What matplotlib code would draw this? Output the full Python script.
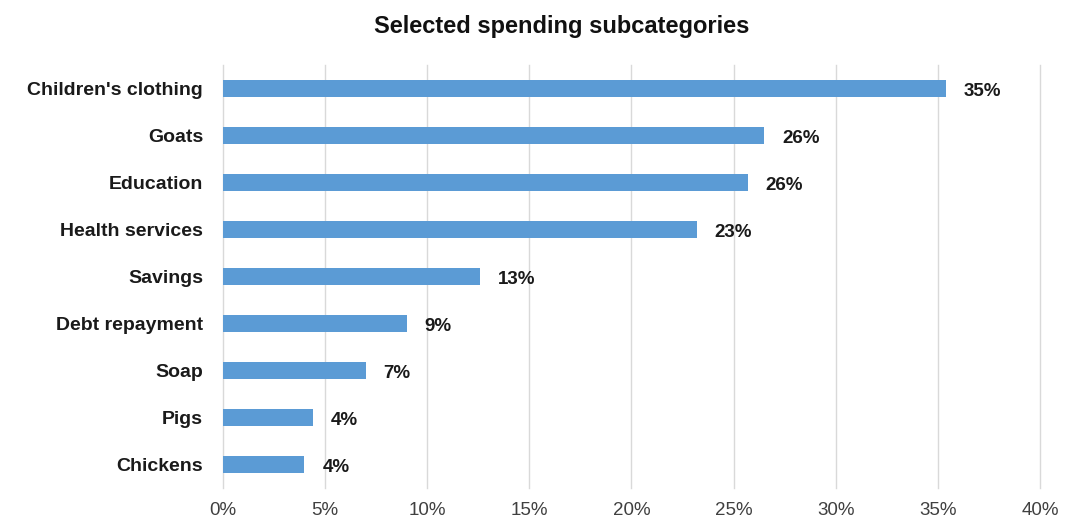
import matplotlib
matplotlib.use("Agg")
import matplotlib.pyplot as plt
from matplotlib.ticker import FuncFormatter

categories = ["Children's clothing", "Goats", "Education", "Health services",
              "Savings", "Debt repayment", "Soap", "Pigs", "Chickens"]
shares = [35.4, 26.5, 25.7, 23.2, 12.6, 9.0, 7.0, 4.4, 4.0]
x_ticks = [0, 5, 10, 15, 20, 25, 30, 35, 40]

bar_color = "#5B9BD5"
grid_color = "#D9D9D9"
font = ["Liberation Sans", "DejaVu Sans"]

plt.rcParams["font.family"] = font

fig = plt.figure(figsize=(10.69, 5.24), dpi=100)
ax = fig.add_axes([0.2083, 0.0687, 0.7646, 0.8073])

ypos = list(range(len(categories)))
ax.barh(ypos, shares, height=0.36, color=bar_color, zorder=3)

# value labels to the right of each bar
for y, v in zip(ypos, shares):
    ax.annotate(f"{round(v):d}%", xy=(v, y), xytext=(18, -3),
                textcoords="offset pixels",
                va="center", ha="left", fontsize=13.5, fontweight="bold",
                color="#1a1a1a")

ax.set_xlim(0, 40)
ax.set_ylim(len(categories) - 0.5, -0.5)
ax.set_xticks(x_ticks)
ax.xaxis.set_major_formatter(FuncFormatter(lambda v, p: f"{v:.0f}%"))
ax.set_yticks(ypos)
ax.set_yticklabels(categories, fontsize=14, fontweight="bold", color="#1a1a1a")
ax.tick_params(axis="x", labelsize=13.5, colors="#404040", length=0, pad=10)
ax.tick_params(axis="y", length=0, pad=14)

ax.grid(axis="x", color=grid_color, linewidth=1, zorder=0)
for line in ax.get_xgridlines():
    line.set_clip_on(False)
for s in ax.spines.values():
    s.set_visible(False)

fig.suptitle("Selected spending subcategories", x=0.525, y=0.972,
             fontsize=17, fontweight="bold", color="#111111")

fig.savefig("out.png", dpi=100)
